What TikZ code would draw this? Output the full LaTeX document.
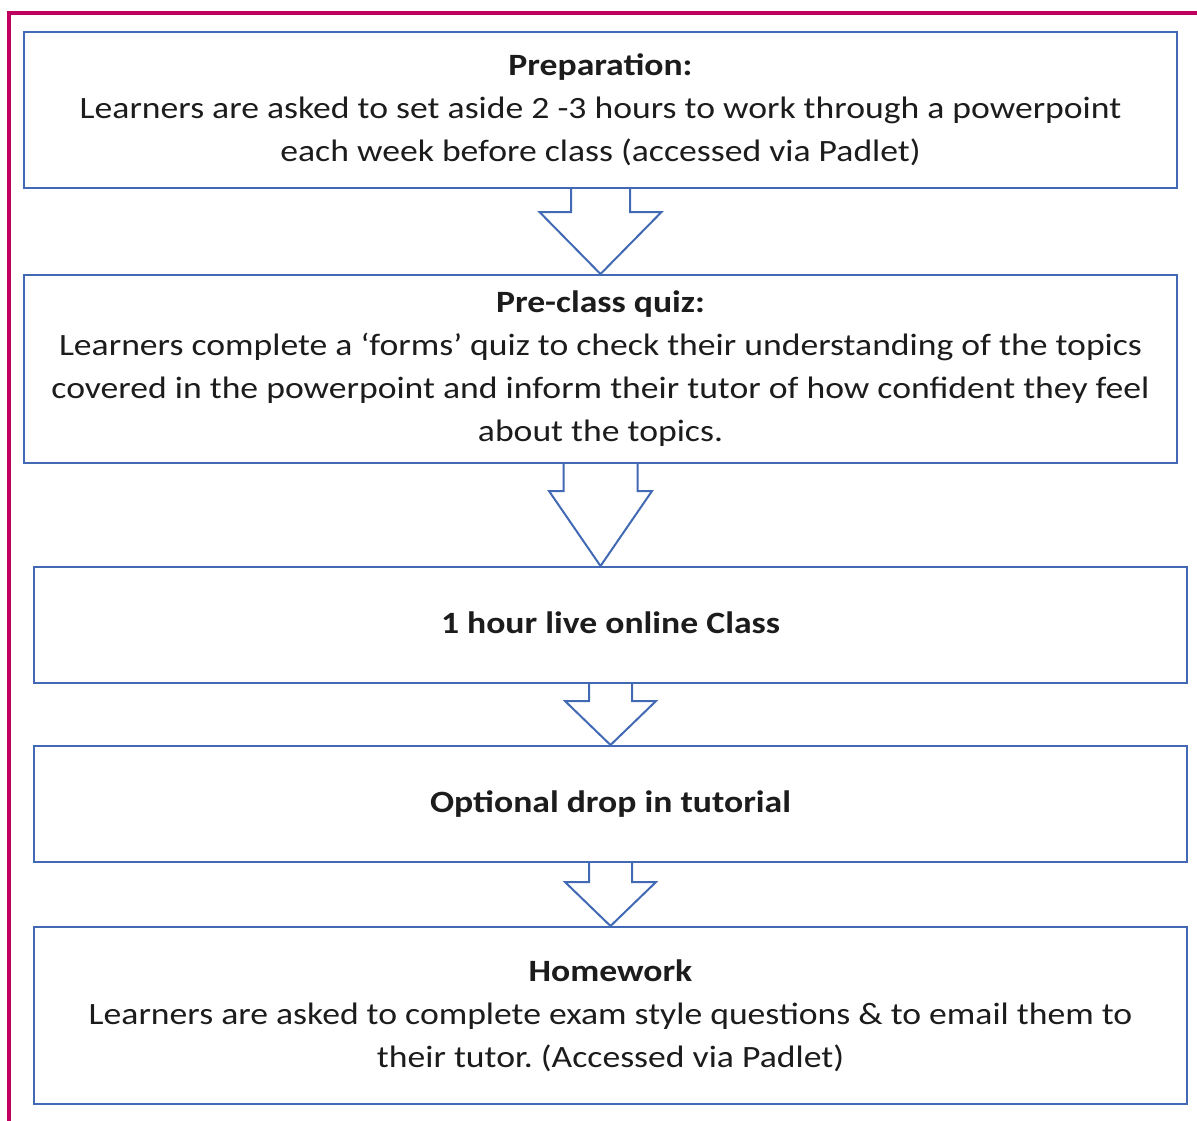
\documentclass[tikz,border=0pt]{standalone}
\usepackage{fontspec}
\setmainfont[FakeStretch=1.15]{Carlito}
\usetikzlibrary{calc}
\frenchspacing
\definecolor{framecol}{RGB}{192,0,96}
\definecolor{boxline}{RGB}{66,106,180}
\definecolor{txt}{RGB}{28,28,28}
\tikzset{
  stagebox/.style={draw=boxline, line width=2pt, fill=white, rectangle,
    minimum width=1153pt, inner sep=0pt, align=center, text=txt,
    font=\fontsize{31}{43}\selectfont},
  arrowline/.style={draw=boxline, line width=2pt, line join=miter},
}
% hollow block arrow hanging from the bottom of box #1 down to box #2
% #3 = half stem width, #4 = half head width, #5 = head length
\newcommand\flowarrow[5]{%
  \path (#1.south |- #2.north) coordinate (tip);
  \fill[white] ($(#1.south)+(-#3,0)$) -- ($(tip)+(-#3,-#5)$) -- ($(tip)+(-#4,-#5)$)
    -- (tip) -- ($(tip)+(#4,-#5)$) -- ($(tip)+(#3,-#5)$) -- ($(#1.south)+(#3,0)$) -- cycle;
  \draw[arrowline] ($(#1.south)+(-#3,0)$) -- ($(tip)+(-#3,-#5)$) -- ($(tip)+(-#4,-#5)$)
    -- (tip) -- ($(tip)+(#4,-#5)$) -- ($(tip)+(#3,-#5)$) -- ($(#1.south)+(#3,0)$);
}
\begin{document}
\begin{tikzpicture}[x=1pt,y=-1pt]
\useasboundingbox (0,0) rectangle (1197,1120);
\fill[white] (0,0) rectangle (1197,1120);
% outer frame
\draw[framecol, line width=3.5pt] (1205,13) -- (9,13) -- (9,1130);

\node[stagebox, minimum height=156pt] (prep) at (600.5,110)
  {\textbf{Preparation:}\\Learners are asked to set aside 2 -3 hours to work through a powerpoint\\each week before class (accessed via Padlet)};
\node[stagebox, minimum height=188pt] (quiz) at (600.5,369)
  {\textbf{Pre-class quiz:}\\Learners complete a ‘forms’ quiz to check their understanding of the topics\\covered in the powerpoint and inform their tutor of how confident they feel\\about the topics.};
\node[stagebox, minimum height=116pt] (live) at (610.5,625)
  {\raisebox{5pt}{\textbf{1 hour live online Class}}};
\node[stagebox, minimum height=116pt] (drop) at (610.5,804)
  {\raisebox{4pt}{\textbf{Optional drop in tutorial}}};
\node[stagebox, minimum height=177pt] (home) at (610.5,1015.5)
  {\textbf{Homework}\\Learners are asked to complete exam style questions \& to email them to\\their tutor. (Accessed via Padlet)};

\flowarrow{prep}{quiz}{29.5}{61}{62}
\flowarrow{quiz}{live}{37}{51.5}{75}
\flowarrow{live}{drop}{21.5}{45.5}{44}
\flowarrow{drop}{home}{21.5}{45.5}{44}
\end{tikzpicture}
\end{document}
